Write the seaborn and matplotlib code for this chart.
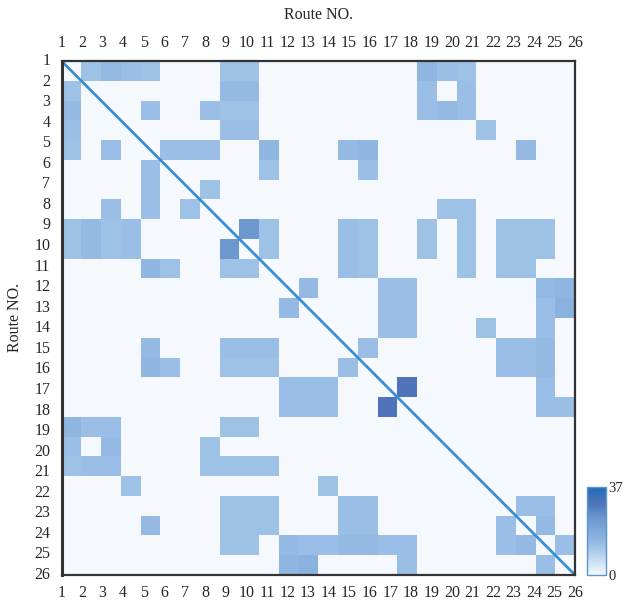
import numpy as np
import pandas as pd
import matplotlib
matplotlib.use("Agg")
import matplotlib.pyplot as plt
import seaborn as sns
from matplotlib.colors import LinearSegmentedColormap

# route numbers and the shared links between them (upper triangle, 1-based)
routes = list(range(1, 27))
link_a = [1, 1, 1, 1, 1, 1, 1, 1, 1,
          2, 2, 2, 2,
          3, 3, 3, 3, 3, 3, 3,
          4, 4, 4,
          5, 5, 5, 5, 5, 5, 5,
          6, 6,
          7,
          8, 8,
          9, 9, 9, 9, 9, 9, 9, 9, 9,
          10, 10, 10, 10, 10, 10, 10, 10,
          11, 11, 11, 11, 11,
          12, 12, 12, 12, 12,
          13, 13, 13, 13,
          14, 14, 14, 14,
          15, 15, 15, 15,
          16, 16, 16,
          17, 17,
          18, 18,
          23, 23,
          24,
          25]
link_b = [2, 3, 4, 5, 9, 10, 19, 20, 21,
          9, 10, 19, 21,
          5, 8, 9, 10, 19, 20, 21,
          9, 10, 22,
          6, 7, 8, 11, 15, 16, 24,
          11, 16,
          8,
          20, 21,
          10, 11, 15, 16, 19, 21, 23, 24, 25,
          11, 15, 16, 19, 21, 23, 24, 25,
          15, 16, 21, 23, 24,
          13, 17, 18, 25, 26,
          17, 18, 25, 26,
          17, 18, 22, 25,
          16, 23, 24, 25,
          23, 24, 25,
          18, 25,
          25, 26,
          24, 25,
          25,
          26]
link_val = [12, 14, 13, 12, 12, 12, 15, 13, 12,
            14, 14, 13, 13,
            13, 13, 12, 12, 13, 14, 13,
            13, 13, 12,
            13, 13, 13, 15, 14, 15, 14,
            12, 13,
            12,
            12, 12,
            24, 12, 13, 12, 12, 12, 12, 12, 12,
            12, 13, 12, 12, 12, 12, 12, 12,
            13, 12, 12, 12, 12,
            14, 13, 13, 14, 15,
            13, 13, 13, 16,
            13, 13, 12, 13,
            13, 13, 13, 14,
            13, 13, 14,
            30, 13,
            13, 13,
            13, 13,
            14,
            13]

n = len(routes)
mat = np.zeros((n, n))
for a, b, v in zip(link_a, link_b, link_val):
    mat[a - 1, b - 1] = v
    mat[b - 1, a - 1] = v
df = pd.DataFrame(mat, index=routes, columns=routes)

cmap = LinearSegmentedColormap.from_list(
    "routes",
    [(0.0, "#f5f9fe"), (0.30, "#a3c6e8"), (0.42, "#8cb3e0"),
     (0.65, "#6c97cf"), (0.81, "#4f74ba"), (1.0, "#1f6db8")],
)

sns.set_style("white")
plt.rcParams["font.family"] = ["Liberation Serif", "DejaVu Serif"]

fig = plt.figure(figsize=(6.24, 6.01), dpi=100)
ax = fig.add_axes([0.0986, 0.0433, 0.8229, 0.8552])
cax = fig.add_axes([0.9407, 0.0433, 0.0305, 0.1464])

sns.heatmap(df, ax=ax, cbar_ax=cax, cmap=cmap, vmin=0, vmax=37,
            cbar_kws={"ticks": [0, 37]})

ax.plot([0, n], [0, n], color="#3a8fd0", lw=2)

pos = np.linspace(0, n, n)
ax.set_xticks(pos)
ax.set_xticklabels(routes, rotation=0, fontsize=11.5)
ax.set_yticks(pos)
ax.set_yticklabels(routes, rotation=0, fontsize=11.5)
ax.tick_params(axis="x", top=True, labeltop=True, bottom=True,
               labelbottom=True, length=0, pad=7)
ax.tick_params(axis="y", length=0, pad=8)
ax.set_xlabel("")
ax.set_ylabel("Route NO.", fontsize=11.5, labelpad=8)
ax.set_xlim(0, n)
ax.set_ylim(n, 0)
for side, s in ax.spines.items():
    s.set_visible(True)
    s.set_color("#333333")
    s.set_linewidth(2.2 if side == "left" else 1.6)

fig.text(0.51, 0.975, "Route NO.", ha="center", va="center", fontsize=11.5)

cbar = ax.collections[0].colorbar
cbar.ax.tick_params(length=0, labelsize=10.5, pad=1.5)
cbar.outline.set_edgecolor("#5b95cf")
cbar.outline.set_linewidth(1)

fig.savefig("out.png", dpi=100)
